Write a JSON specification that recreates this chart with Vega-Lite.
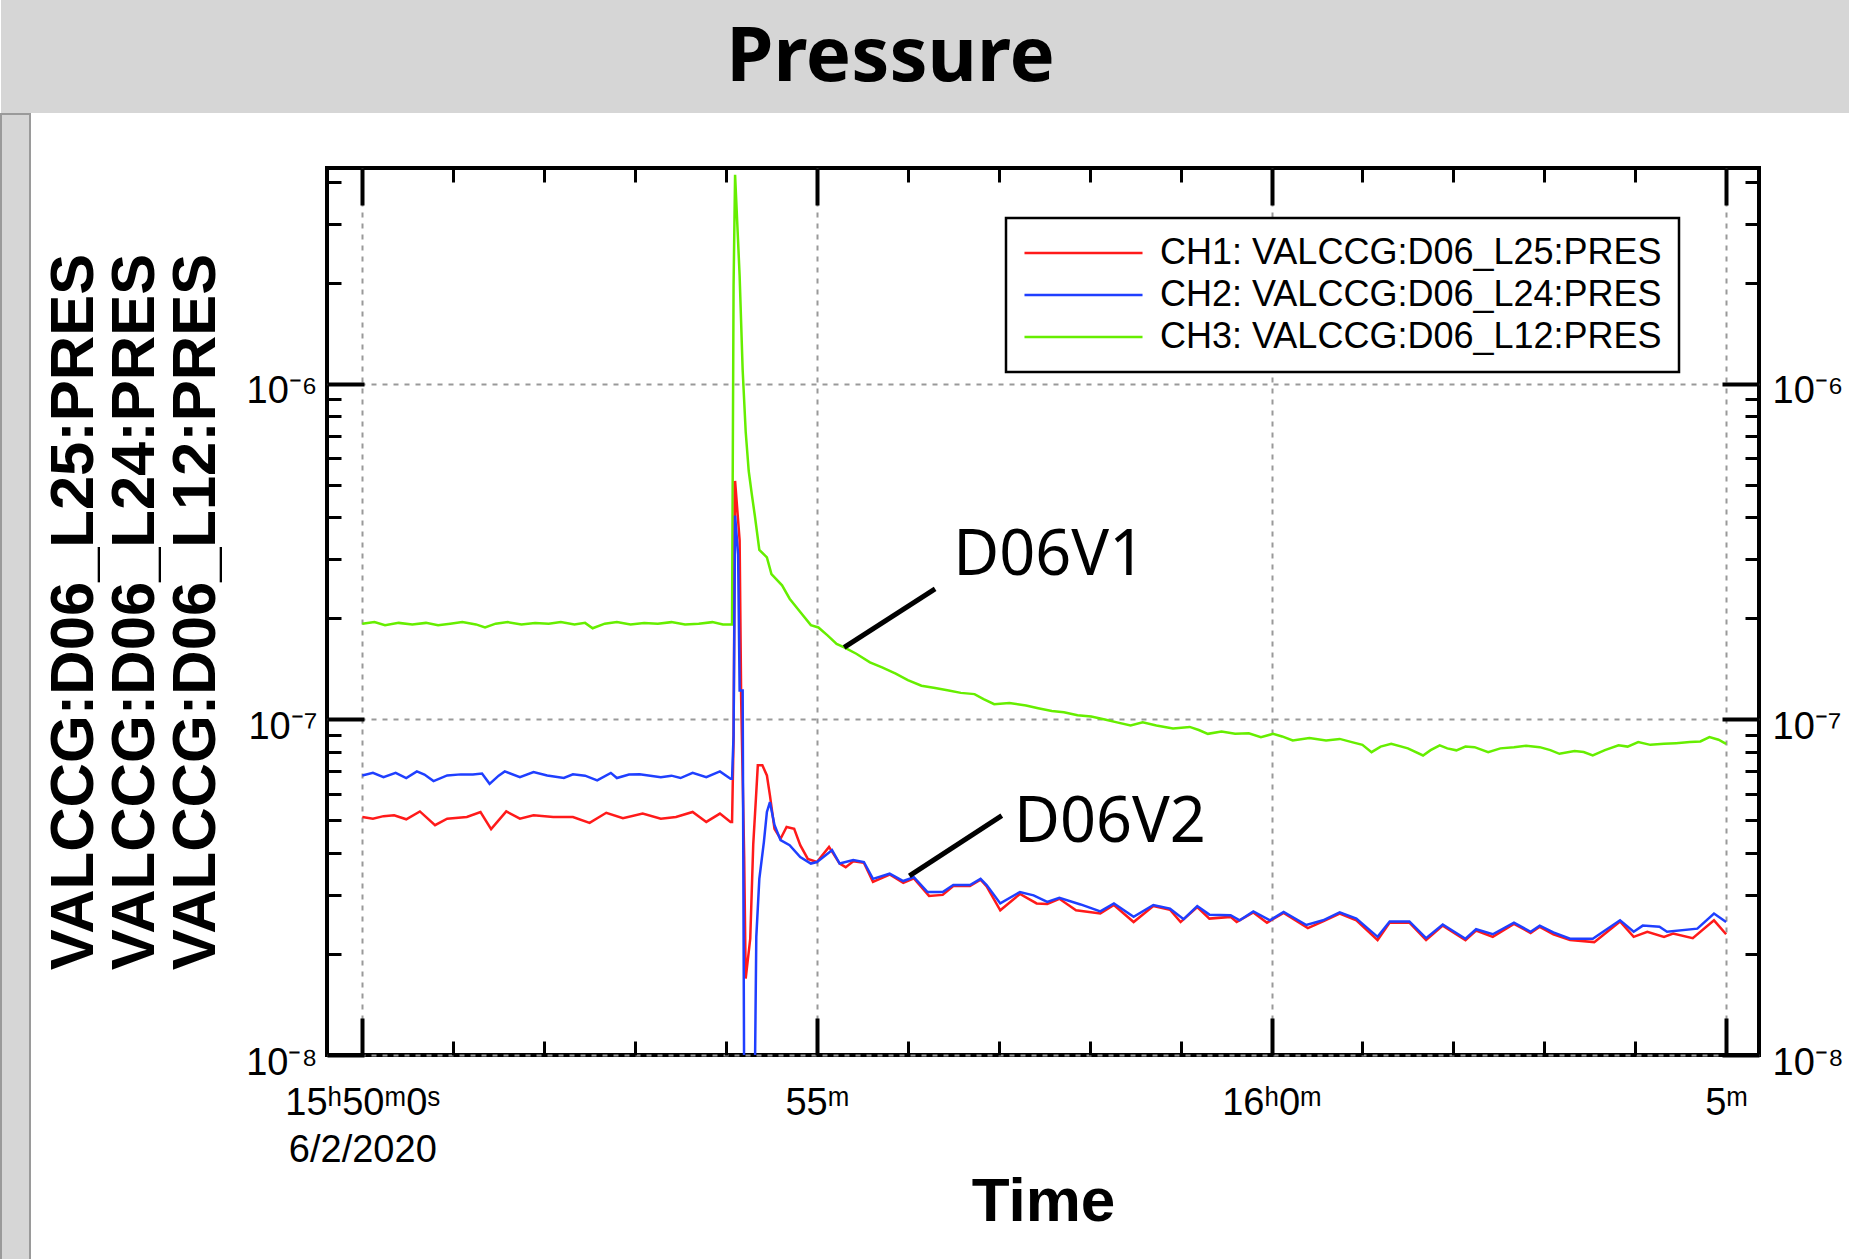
{
  "$schema": "https://vega.github.io/schema/vega-lite/v6.json",
  "padding": 0,
  "background": "white",
  "spacing": 0,
  "config": {
    "view": {"stroke": null},
    "font": "Liberation Sans",
    "axis": {"labelColor": "black", "titleColor": "black", "tickColor": "black", "domain": false, "labelFont": "Liberation Sans", "labelFontSize": 38, "labelOverlap": false, "labelFlush": false, "tickCap": "butt"},
    "legend": {"strokeWidth": 2.5}
  },
  "vconcat": [
    {
      "width": 1849, "height": 113,
      "view": {"fill": "#d6d6d6", "stroke": null},
      "data": {"values": [{"title": "Pressure"}]},
      "mark": {"type": "text", "font": "Noto Sans", "fontWeight": "bold", "fontSize": 76, "color": "black", "align": "center", "baseline": "middle", "dx": -35, "dy": 1},
      "encoding": {"text": {"field": "title", "type": "nominal"}}
    },
    {
      "spacing": 9,
      "hconcat": [
        {
          "width": 29, "height": 1146,
          "view": {"fill": "#d6d6d6", "stroke": "#9a9a9a", "strokeWidth": 2},
          "data": {"values": [{"s": ""}]},
          "mark": {"type": "text"},
          "encoding": {"text": {"field": "s", "type": "nominal"}}
        },
        {
          "spacing": 0,
          "vconcat": [
            {
              "width": 1432, "height": 50,
              "view": {"stroke": null},
              "data": {"values": [{"s": ""}]},
              "mark": {"type": "text"},
              "encoding": {"text": {"field": "s", "type": "nominal"}}
            },
            {
              "width": 1432, "height": 887,
              "view": {"stroke": "black", "strokeWidth": 4},
              "resolve": {"axis": {"x": "independent", "y": "independent"}},
              "layer": [
                {
                  "data": {
                    "format": {"parse": {"t": "date:'%H:%M:%S'"}},
                    "values": [
                      {"ch":"CH3","t":"15:50:00","p":1.93e-7},{"ch":"CH3","t":"15:50:08","p":1.95e-7},{"ch":"CH3","t":"15:50:15","p":1.91e-7},{"ch":"CH3","t":"15:50:24","p":1.94e-7},{"ch":"CH3","t":"15:50:33","p":1.92e-7},{"ch":"CH3","t":"15:50:42","p":1.94e-7},{"ch":"CH3","t":"15:50:50","p":1.91e-7},{"ch":"CH3","t":"15:50:58","p":1.93e-7},{"ch":"CH3","t":"15:51:06","p":1.95e-7},{"ch":"CH3","t":"15:51:15","p":1.92e-7},{"ch":"CH3","t":"15:51:21","p":1.88e-7},{"ch":"CH3","t":"15:51:28","p":1.93e-7},{"ch":"CH3","t":"15:51:36","p":1.95e-7},{"ch":"CH3","t":"15:51:45","p":1.92e-7},{"ch":"CH3","t":"15:51:54","p":1.94e-7},{"ch":"CH3","t":"15:52:03","p":1.93e-7},{"ch":"CH3","t":"15:52:11","p":1.95e-7},{"ch":"CH3","t":"15:52:20","p":1.92e-7},{"ch":"CH3","t":"15:52:27","p":1.94e-7},{"ch":"CH3","t":"15:52:32","p":1.87e-7},{"ch":"CH3","t":"15:52:40","p":1.93e-7},{"ch":"CH3","t":"15:52:48","p":1.95e-7},{"ch":"CH3","t":"15:52:57","p":1.92e-7},{"ch":"CH3","t":"15:53:06","p":1.94e-7},{"ch":"CH3","t":"15:53:15","p":1.93e-7},{"ch":"CH3","t":"15:53:24","p":1.95e-7},{"ch":"CH3","t":"15:53:33","p":1.92e-7},{"ch":"CH3","t":"15:53:42","p":1.93e-7},{"ch":"CH3","t":"15:53:51","p":1.95e-7},{"ch":"CH3","t":"15:53:58","p":1.92e-7},{"ch":"CH3","t":"15:54:04","p":1.92e-7},{"ch":"CH3","t":"15:54:05","p":1.96e-6},{"ch":"CH3","t":"15:54:06","p":4.2e-6},{"ch":"CH3","t":"15:54:09","p":2.1e-6},{"ch":"CH3","t":"15:54:11","p":1.1e-6},{"ch":"CH3","t":"15:54:13","p":7.2e-7},{"ch":"CH3","t":"15:54:15","p":5.5e-7},{"ch":"CH3","t":"15:54:17","p":4.7e-7},{"ch":"CH3","t":"15:54:19","p":4.06e-7},{"ch":"CH3","t":"15:54:22","p":3.2e-7},{"ch":"CH3","t":"15:54:27","p":3.04e-7},{"ch":"CH3","t":"15:54:30","p":2.71e-7},{"ch":"CH3","t":"15:54:37","p":2.51e-7},{"ch":"CH3","t":"15:54:42","p":2.29e-7},{"ch":"CH3","t":"15:54:49","p":2.09e-7},{"ch":"CH3","t":"15:54:56","p":1.91e-7},{"ch":"CH3","t":"15:55:01","p":1.88e-7},{"ch":"CH3","t":"15:55:07","p":1.78e-7},{"ch":"CH3","t":"15:55:13","p":1.68e-7},{"ch":"CH3","t":"15:55:18","p":1.64e-7},{"ch":"CH3","t":"15:55:26","p":1.57e-7},{"ch":"CH3","t":"15:55:35","p":1.48e-7},{"ch":"CH3","t":"15:55:43","p":1.43e-7},{"ch":"CH3","t":"15:55:52","p":1.37e-7},{"ch":"CH3","t":"15:56:00","p":1.31e-7},{"ch":"CH3","t":"15:56:09","p":1.26e-7},{"ch":"CH3","t":"15:56:18","p":1.24e-7},{"ch":"CH3","t":"15:56:27","p":1.22e-7},{"ch":"CH3","t":"15:56:35","p":1.2e-7},{"ch":"CH3","t":"15:56:44","p":1.19e-7},{"ch":"CH3","t":"15:56:50","p":1.15e-7},{"ch":"CH3","t":"15:56:57","p":1.11e-7},{"ch":"CH3","t":"15:57:07","p":1.12e-7},{"ch":"CH3","t":"15:57:18","p":1.1e-7},{"ch":"CH3","t":"15:57:26","p":1.08e-7},{"ch":"CH3","t":"15:57:35","p":1.06e-7},{"ch":"CH3","t":"15:57:43","p":1.05e-7},{"ch":"CH3","t":"15:57:52","p":1.03e-7},{"ch":"CH3","t":"15:58:01","p":1.02e-7},{"ch":"CH3","t":"15:58:10","p":1.0e-7},{"ch":"CH3","t":"15:58:18","p":9.8e-8},{"ch":"CH3","t":"15:58:27","p":9.6e-8},{"ch":"CH3","t":"15:58:35","p":9.8e-8},{"ch":"CH3","t":"15:58:44","p":9.6e-8},{"ch":"CH3","t":"15:58:55","p":9.4e-8},{"ch":"CH3","t":"15:59:06","p":9.5e-8},{"ch":"CH3","t":"15:59:12","p":9.3e-8},{"ch":"CH3","t":"15:59:18","p":9.06e-8},{"ch":"CH3","t":"15:59:27","p":9.2e-8},{"ch":"CH3","t":"15:59:36","p":9.06e-8},{"ch":"CH3","t":"15:59:45","p":9.1e-8},{"ch":"CH3","t":"15:59:53","p":8.86e-8},{"ch":"CH3","t":"16:00:01","p":9.06e-8},{"ch":"CH3","t":"16:00:07","p":8.9e-8},{"ch":"CH3","t":"16:00:14","p":8.66e-8},{"ch":"CH3","t":"16:00:25","p":8.8e-8},{"ch":"CH3","t":"16:00:36","p":8.66e-8},{"ch":"CH3","t":"16:00:45","p":8.75e-8},{"ch":"CH3","t":"16:00:53","p":8.56e-8},{"ch":"CH3","t":"16:01:00","p":8.4e-8},{"ch":"CH3","t":"16:01:06","p":7.99e-8},{"ch":"CH3","t":"16:01:12","p":8.3e-8},{"ch":"CH3","t":"16:01:19","p":8.46e-8},{"ch":"CH3","t":"16:01:30","p":8.2e-8},{"ch":"CH3","t":"16:01:40","p":7.81e-8},{"ch":"CH3","t":"16:01:45","p":8.1e-8},{"ch":"CH3","t":"16:01:51","p":8.37e-8},{"ch":"CH3","t":"16:01:56","p":8.2e-8},{"ch":"CH3","t":"16:02:02","p":8.09e-8},{"ch":"CH3","t":"16:02:08","p":8.3e-8},{"ch":"CH3","t":"16:02:14","p":8.27e-8},{"ch":"CH3","t":"16:02:23","p":7.99e-8},{"ch":"CH3","t":"16:02:31","p":8.2e-8},{"ch":"CH3","t":"16:02:40","p":8.27e-8},{"ch":"CH3","t":"16:02:48","p":8.35e-8},{"ch":"CH3","t":"16:02:57","p":8.27e-8},{"ch":"CH3","t":"16:03:04","p":8.1e-8},{"ch":"CH3","t":"16:03:10","p":7.9e-8},{"ch":"CH3","t":"16:03:20","p":8.05e-8},{"ch":"CH3","t":"16:03:26","p":8.0e-8},{"ch":"CH3","t":"16:03:32","p":7.81e-8},{"ch":"CH3","t":"16:03:40","p":8.1e-8},{"ch":"CH3","t":"16:03:49","p":8.37e-8},{"ch":"CH3","t":"16:03:55","p":8.3e-8},{"ch":"CH3","t":"16:04:02","p":8.56e-8},{"ch":"CH3","t":"16:04:10","p":8.4e-8},{"ch":"CH3","t":"16:04:19","p":8.46e-8},{"ch":"CH3","t":"16:04:27","p":8.5e-8},{"ch":"CH3","t":"16:04:36","p":8.56e-8},{"ch":"CH3","t":"16:04:43","p":8.6e-8},{"ch":"CH3","t":"16:04:49","p":8.86e-8},{"ch":"CH3","t":"16:04:55","p":8.7e-8},{"ch":"CH3","t":"16:05:00","p":8.46e-8},
                      {"ch":"CH1","t":"15:50:00","p":5.12e-8},{"ch":"CH1","t":"15:50:07","p":5.06e-8},{"ch":"CH1","t":"15:50:14","p":5.15e-8},{"ch":"CH1","t":"15:50:21","p":5.18e-8},{"ch":"CH1","t":"15:50:29","p":5.04e-8},{"ch":"CH1","t":"15:50:38","p":5.32e-8},{"ch":"CH1","t":"15:50:48","p":4.84e-8},{"ch":"CH1","t":"15:50:56","p":5.06e-8},{"ch":"CH1","t":"15:51:09","p":5.12e-8},{"ch":"CH1","t":"15:51:18","p":5.3e-8},{"ch":"CH1","t":"15:51:25","p":4.71e-8},{"ch":"CH1","t":"15:51:35","p":5.32e-8},{"ch":"CH1","t":"15:51:44","p":5.06e-8},{"ch":"CH1","t":"15:51:53","p":5.18e-8},{"ch":"CH1","t":"15:52:06","p":5.12e-8},{"ch":"CH1","t":"15:52:19","p":5.12e-8},{"ch":"CH1","t":"15:52:30","p":4.92e-8},{"ch":"CH1","t":"15:52:41","p":5.27e-8},{"ch":"CH1","t":"15:52:52","p":5.08e-8},{"ch":"CH1","t":"15:53:05","p":5.24e-8},{"ch":"CH1","t":"15:53:17","p":5.06e-8},{"ch":"CH1","t":"15:53:27","p":5.12e-8},{"ch":"CH1","t":"15:53:38","p":5.3e-8},{"ch":"CH1","t":"15:53:47","p":4.95e-8},{"ch":"CH1","t":"15:53:56","p":5.24e-8},{"ch":"CH1","t":"15:54:03","p":4.95e-8},{"ch":"CH1","t":"15:54:04","p":4.95e-8},{"ch":"CH1","t":"15:54:05","p":8.75e-8},{"ch":"CH1","t":"15:54:06","p":5.14e-7},{"ch":"CH1","t":"15:54:09","p":3.42e-7},{"ch":"CH1","t":"15:54:10","p":1.16e-7},{"ch":"CH1","t":"15:54:12","p":3.9e-8},{"ch":"CH1","t":"15:54:13","p":1.69e-8},{"ch":"CH1","t":"15:54:16","p":2.22e-8},{"ch":"CH1","t":"15:54:18","p":4.26e-8},{"ch":"CH1","t":"15:54:20","p":6.08e-8},{"ch":"CH1","t":"15:54:21","p":7.3e-8},{"ch":"CH1","t":"15:54:24","p":7.3e-8},{"ch":"CH1","t":"15:54:27","p":6.81e-8},{"ch":"CH1","t":"15:54:29","p":5.94e-8},{"ch":"CH1","t":"15:54:32","p":4.72e-8},{"ch":"CH1","t":"15:54:36","p":4.41e-8},{"ch":"CH1","t":"15:54:40","p":4.78e-8},{"ch":"CH1","t":"15:54:45","p":4.72e-8},{"ch":"CH1","t":"15:54:49","p":4.22e-8},{"ch":"CH1","t":"15:54:54","p":3.84e-8},{"ch":"CH1","t":"15:55:00","p":3.76e-8},{"ch":"CH1","t":"15:55:08","p":4.17e-8},{"ch":"CH1","t":"15:55:15","p":3.72e-8},{"ch":"CH1","t":"15:55:19","p":3.63e-8},{"ch":"CH1","t":"15:55:24","p":3.78e-8},{"ch":"CH1","t":"15:55:31","p":3.74e-8},{"ch":"CH1","t":"15:55:37","p":3.28e-8},{"ch":"CH1","t":"15:55:48","p":3.45e-8},{"ch":"CH1","t":"15:55:57","p":3.26e-8},{"ch":"CH1","t":"15:56:04","p":3.36e-8},{"ch":"CH1","t":"15:56:14","p":2.98e-8},{"ch":"CH1","t":"15:56:23","p":3.0e-8},{"ch":"CH1","t":"15:56:30","p":3.19e-8},{"ch":"CH1","t":"15:56:41","p":3.19e-8},{"ch":"CH1","t":"15:56:48","p":3.33e-8},{"ch":"CH1","t":"15:56:52","p":3.18e-8},{"ch":"CH1","t":"15:57:01","p":2.7e-8},{"ch":"CH1","t":"15:57:14","p":3.02e-8},{"ch":"CH1","t":"15:57:25","p":2.83e-8},{"ch":"CH1","t":"15:57:32","p":2.82e-8},{"ch":"CH1","t":"15:57:40","p":2.92e-8},{"ch":"CH1","t":"15:57:51","p":2.7e-8},{"ch":"CH1","t":"15:58:07","p":2.64e-8},{"ch":"CH1","t":"15:58:16","p":2.8e-8},{"ch":"CH1","t":"15:58:29","p":2.49e-8},{"ch":"CH1","t":"15:58:42","p":2.78e-8},{"ch":"CH1","t":"15:58:53","p":2.71e-8},{"ch":"CH1","t":"15:59:00","p":2.49e-8},{"ch":"CH1","t":"15:59:11","p":2.76e-8},{"ch":"CH1","t":"15:59:19","p":2.55e-8},{"ch":"CH1","t":"15:59:33","p":2.58e-8},{"ch":"CH1","t":"15:59:37","p":2.49e-8},{"ch":"CH1","t":"15:59:48","p":2.66e-8},{"ch":"CH1","t":"15:59:57","p":2.48e-8},{"ch":"CH1","t":"16:00:08","p":2.65e-8},{"ch":"CH1","t":"16:00:24","p":2.39e-8},{"ch":"CH1","t":"16:00:34","p":2.5e-8},{"ch":"CH1","t":"16:00:45","p":2.64e-8},{"ch":"CH1","t":"16:00:56","p":2.52e-8},{"ch":"CH1","t":"16:01:10","p":2.2e-8},{"ch":"CH1","t":"16:01:18","p":2.48e-8},{"ch":"CH1","t":"16:01:31","p":2.48e-8},{"ch":"CH1","t":"16:01:42","p":2.2e-8},{"ch":"CH1","t":"16:01:53","p":2.43e-8},{"ch":"CH1","t":"16:02:08","p":2.2e-8},{"ch":"CH1","t":"16:02:15","p":2.35e-8},{"ch":"CH1","t":"16:02:26","p":2.25e-8},{"ch":"CH1","t":"16:02:40","p":2.46e-8},{"ch":"CH1","t":"16:02:51","p":2.31e-8},{"ch":"CH1","t":"16:02:57","p":2.41e-8},{"ch":"CH1","t":"16:03:06","p":2.29e-8},{"ch":"CH1","t":"16:03:17","p":2.2e-8},{"ch":"CH1","t":"16:03:33","p":2.17e-8},{"ch":"CH1","t":"16:03:50","p":2.5e-8},{"ch":"CH1","t":"16:03:59","p":2.25e-8},{"ch":"CH1","t":"16:04:08","p":2.33e-8},{"ch":"CH1","t":"16:04:19","p":2.25e-8},{"ch":"CH1","t":"16:04:25","p":2.3e-8},{"ch":"CH1","t":"16:04:38","p":2.23e-8},{"ch":"CH1","t":"16:04:52","p":2.52e-8},{"ch":"CH1","t":"16:05:00","p":2.29e-8},
                      {"ch":"CH2","t":"15:50:00","p":6.81e-8},{"ch":"CH2","t":"15:50:07","p":6.93e-8},{"ch":"CH2","t":"15:50:14","p":6.73e-8},{"ch":"CH2","t":"15:50:22","p":6.93e-8},{"ch":"CH2","t":"15:50:29","p":6.69e-8},{"ch":"CH2","t":"15:50:36","p":7.0e-8},{"ch":"CH2","t":"15:50:41","p":6.85e-8},{"ch":"CH2","t":"15:50:47","p":6.55e-8},{"ch":"CH2","t":"15:50:56","p":6.81e-8},{"ch":"CH2","t":"15:51:05","p":6.86e-8},{"ch":"CH2","t":"15:51:13","p":6.86e-8},{"ch":"CH2","t":"15:51:19","p":6.9e-8},{"ch":"CH2","t":"15:51:24","p":6.43e-8},{"ch":"CH2","t":"15:51:30","p":6.8e-8},{"ch":"CH2","t":"15:51:34","p":7.0e-8},{"ch":"CH2","t":"15:51:44","p":6.73e-8},{"ch":"CH2","t":"15:51:53","p":6.97e-8},{"ch":"CH2","t":"15:52:02","p":6.81e-8},{"ch":"CH2","t":"15:52:13","p":6.69e-8},{"ch":"CH2","t":"15:52:19","p":6.86e-8},{"ch":"CH2","t":"15:52:27","p":6.8e-8},{"ch":"CH2","t":"15:52:35","p":6.58e-8},{"ch":"CH2","t":"15:52:44","p":6.93e-8},{"ch":"CH2","t":"15:52:48","p":6.69e-8},{"ch":"CH2","t":"15:52:56","p":6.85e-8},{"ch":"CH2","t":"15:53:03","p":6.86e-8},{"ch":"CH2","t":"15:53:10","p":6.8e-8},{"ch":"CH2","t":"15:53:17","p":6.73e-8},{"ch":"CH2","t":"15:53:24","p":6.8e-8},{"ch":"CH2","t":"15:53:30","p":6.69e-8},{"ch":"CH2","t":"15:53:38","p":6.93e-8},{"ch":"CH2","t":"15:53:47","p":6.73e-8},{"ch":"CH2","t":"15:53:56","p":7.0e-8},{"ch":"CH2","t":"15:54:03","p":6.66e-8},{"ch":"CH2","t":"15:54:04","p":6.66e-8},{"ch":"CH2","t":"15:54:05","p":8.96e-8},{"ch":"CH2","t":"15:54:06","p":4.05e-7},{"ch":"CH2","t":"15:54:08","p":3.1e-7},{"ch":"CH2","t":"15:54:09","p":1.22e-7},{"ch":"CH2","t":"15:54:11","p":1.22e-7},{"ch":"CH2","t":"15:54:12","p":8e-9},{"ch":"CH2","t":"15:54:19","p":8e-9},{"ch":"CH2","t":"15:54:20","p":2.25e-8},{"ch":"CH2","t":"15:54:22","p":3.35e-8},{"ch":"CH2","t":"15:54:25","p":4.31e-8},{"ch":"CH2","t":"15:54:27","p":5.3e-8},{"ch":"CH2","t":"15:54:29","p":5.67e-8},{"ch":"CH2","t":"15:54:32","p":4.85e-8},{"ch":"CH2","t":"15:54:36","p":4.37e-8},{"ch":"CH2","t":"15:54:42","p":4.22e-8},{"ch":"CH2","t":"15:54:49","p":3.89e-8},{"ch":"CH2","t":"15:54:56","p":3.72e-8},{"ch":"CH2","t":"15:55:00","p":3.76e-8},{"ch":"CH2","t":"15:55:07","p":3.98e-8},{"ch":"CH2","t":"15:55:10","p":4.08e-8},{"ch":"CH2","t":"15:55:15","p":3.72e-8},{"ch":"CH2","t":"15:55:24","p":3.81e-8},{"ch":"CH2","t":"15:55:31","p":3.76e-8},{"ch":"CH2","t":"15:55:37","p":3.35e-8},{"ch":"CH2","t":"15:55:48","p":3.47e-8},{"ch":"CH2","t":"15:55:57","p":3.3e-8},{"ch":"CH2","t":"15:56:04","p":3.39e-8},{"ch":"CH2","t":"15:56:13","p":3.06e-8},{"ch":"CH2","t":"15:56:23","p":3.06e-8},{"ch":"CH2","t":"15:56:30","p":3.21e-8},{"ch":"CH2","t":"15:56:41","p":3.21e-8},{"ch":"CH2","t":"15:56:48","p":3.35e-8},{"ch":"CH2","t":"15:56:52","p":3.21e-8},{"ch":"CH2","t":"15:57:01","p":2.83e-8},{"ch":"CH2","t":"15:57:14","p":3.06e-8},{"ch":"CH2","t":"15:57:23","p":2.99e-8},{"ch":"CH2","t":"15:57:32","p":2.86e-8},{"ch":"CH2","t":"15:57:40","p":2.94e-8},{"ch":"CH2","t":"15:57:54","p":2.81e-8},{"ch":"CH2","t":"15:58:07","p":2.68e-8},{"ch":"CH2","t":"15:58:16","p":2.83e-8},{"ch":"CH2","t":"15:58:29","p":2.58e-8},{"ch":"CH2","t":"15:58:42","p":2.8e-8},{"ch":"CH2","t":"15:58:53","p":2.73e-8},{"ch":"CH2","t":"15:59:02","p":2.54e-8},{"ch":"CH2","t":"15:59:11","p":2.78e-8},{"ch":"CH2","t":"15:59:19","p":2.62e-8},{"ch":"CH2","t":"15:59:33","p":2.61e-8},{"ch":"CH2","t":"15:59:39","p":2.52e-8},{"ch":"CH2","t":"15:59:48","p":2.68e-8},{"ch":"CH2","t":"15:59:59","p":2.52e-8},{"ch":"CH2","t":"16:00:08","p":2.67e-8},{"ch":"CH2","t":"16:00:23","p":2.44e-8},{"ch":"CH2","t":"16:00:34","p":2.52e-8},{"ch":"CH2","t":"16:00:45","p":2.66e-8},{"ch":"CH2","t":"16:00:56","p":2.55e-8},{"ch":"CH2","t":"16:01:10","p":2.25e-8},{"ch":"CH2","t":"16:01:18","p":2.5e-8},{"ch":"CH2","t":"16:01:31","p":2.5e-8},{"ch":"CH2","t":"16:01:42","p":2.23e-8},{"ch":"CH2","t":"16:01:53","p":2.45e-8},{"ch":"CH2","t":"16:02:08","p":2.22e-8},{"ch":"CH2","t":"16:02:15","p":2.37e-8},{"ch":"CH2","t":"16:02:26","p":2.29e-8},{"ch":"CH2","t":"16:02:40","p":2.48e-8},{"ch":"CH2","t":"16:02:51","p":2.33e-8},{"ch":"CH2","t":"16:02:57","p":2.43e-8},{"ch":"CH2","t":"16:03:06","p":2.32e-8},{"ch":"CH2","t":"16:03:17","p":2.22e-8},{"ch":"CH2","t":"16:03:32","p":2.22e-8},{"ch":"CH2","t":"16:03:50","p":2.52e-8},{"ch":"CH2","t":"16:03:59","p":2.33e-8},{"ch":"CH2","t":"16:04:05","p":2.43e-8},{"ch":"CH2","t":"16:04:16","p":2.41e-8},{"ch":"CH2","t":"16:04:21","p":2.33e-8},{"ch":"CH2","t":"16:04:41","p":2.38e-8},{"ch":"CH2","t":"16:04:52","p":2.64e-8},{"ch":"CH2","t":"16:05:00","p":2.49e-8}
                    ]
                  },
                  "mark": {"type": "line", "strokeWidth": 2.5, "clip": true},
                  "encoding": {
                    "x": {
                      "field": "t", "type": "temporal",
                      "scale": {"domain": [{"year":1900,"month":1,"date":1,"hours":15,"minutes":49,"seconds":36,"milliseconds":700},{"year":1900,"month":1,"date":1,"hours":16,"minutes":5,"seconds":21,"milliseconds":700}]},
                      "axis": {
                        "orient": "bottom",
                        "values": [{"year":1900,"month":1,"date":1,"hours":15,"minutes":50},{"year":1900,"month":1,"date":1,"hours":15,"minutes":51},{"year":1900,"month":1,"date":1,"hours":15,"minutes":52},{"year":1900,"month":1,"date":1,"hours":15,"minutes":53},{"year":1900,"month":1,"date":1,"hours":15,"minutes":54},{"year":1900,"month":1,"date":1,"hours":15,"minutes":55},{"year":1900,"month":1,"date":1,"hours":15,"minutes":56},{"year":1900,"month":1,"date":1,"hours":15,"minutes":57},{"year":1900,"month":1,"date":1,"hours":15,"minutes":58},{"year":1900,"month":1,"date":1,"hours":15,"minutes":59},{"year":1900,"month":1,"date":1,"hours":16,"minutes":0},{"year":1900,"month":1,"date":1,"hours":16,"minutes":1},{"year":1900,"month":1,"date":1,"hours":16,"minutes":2},{"year":1900,"month":1,"date":1,"hours":16,"minutes":3},{"year":1900,"month":1,"date":1,"hours":16,"minutes":4},{"year":1900,"month":1,"date":1,"hours":16,"minutes":5}],
                        "tickSize": {"condition": {"test": "minutes(datum.value) % 5 == 0", "value": -37}, "value": -14},
                        "tickWidth": {"condition": {"test": "minutes(datum.value) % 5 == 0", "value": 4}, "value": 3},
                        "grid": true,
                        "gridColor": "#999999",
                        "gridDash": [5, 6],
                        "gridWidth": 2,
                        "gridOpacity": {"condition": {"test": "minutes(datum.value) % 5 == 0", "value": 1}, "value": 0},
                        "labelExpr": "minutes(datum.value) == 50 ? ['15ʰ50ᵐ0ˢ', '6/2/2020'] : minutes(datum.value) == 55 ? '55ᵐ' : minutes(datum.value) == 0 ? '16ʰ0ᵐ' : minutes(datum.value) == 5 ? '5ᵐ' : ''",
                        "labelPadding": 66,
                        "labelBaseline": "top",
                        "labelLineHeight": 47,
                        "labelAlign": "center",
                        "title": "Time",
                        "titleFont": "Liberation Sans",
                        "titleFontWeight": "bold",
                        "titleFontSize": 62,
                        "titleBaseline": "top",
                        "titleY": 116
                      }
                    },
                    "y": {
                      "field": "p", "type": "quantitative",
                      "scale": {"type": "log", "domain": [1e-8, 4.4e-6], "nice": false},
                      "axis": {
                        "orient": "left",
                        "values": [1e-8,2e-8,3e-8,4e-8,5e-8,6e-8,7e-8,8e-8,9e-8,1e-7,2e-7,3e-7,4e-7,5e-7,6e-7,7e-7,8e-7,9e-7,1e-6,2e-6,3e-6,4e-6],
                        "tickSize": {"condition": {"test": "abs(log(datum.value)/LN10 - round(log(datum.value)/LN10)) < 0.01", "value": -37}, "value": -14},
                        "tickWidth": {"condition": {"test": "abs(log(datum.value)/LN10 - round(log(datum.value)/LN10)) < 0.01", "value": 4}, "value": 3},
                        "grid": true,
                        "gridColor": "#999999",
                        "gridDash": [5, 6],
                        "gridWidth": 2,
                        "gridOpacity": {"condition": {"test": "abs(log(datum.value)/LN10 - round(log(datum.value)/LN10)) < 0.01", "value": 1}, "value": 0},
                        "labelExpr": "abs(log(datum.value)/LN10 - round(log(datum.value)/LN10)) < 0.01 ? (round(log(datum.value)/LN10) == -6 ? '10⁻⁶' : round(log(datum.value)/LN10) == -7 ? '10⁻⁷' : '10⁻⁸') : ''",
                        "labelPadding": 47,
                        "labelOffset": 8,
                        "labelBaseline": "middle",
                        "title": ["VALCCG:D06_L25:PRES", "VALCCG:D06_L24:PRES", "VALCCG:D06_L12:PRES"],
                        "titleFont": "Liberation Sans",
                        "titleFontWeight": "bold",
                        "titleFontSize": 61.5,
                        "titleLineHeight": 61,
                        "titleBaseline": "alphabetic",
                        "titleX": -235
                      }
                    },
                    "color": {
                      "field": "ch", "type": "nominal",
                      "scale": {"domain": ["CH1", "CH2", "CH3"], "range": ["#ff1a1a", "#1f3fff", "#66ee00"]},
                      "legend": {
                        "title": null,
                        "orient": "none",
                        "legendX": 1005,
                        "legendY": 218,
                        "direction": "vertical",
                        "symbolType": "M-6,0H6",
                        "symbolSize": 387,
                        "symbolStrokeWidth": 2.5,
                        "symbolOffset": 42.5,
                        "labelOffset": 58.5,
                        "labelFont": "Liberation Sans",
                        "labelFontSize": 36,
                        "labelColor": "black",
                        "labelLimit": 1000,
                        "rowPadding": 6,
                        "padding": 17,
                        "strokeColor": "black",
                        "fillColor": "white",
                        "labelExpr": "datum.label == 'CH1' ? 'CH1: VALCCG:D06_L25:PRES' : datum.label == 'CH2' ? 'CH2: VALCCG:D06_L24:PRES' : 'CH3: VALCCG:D06_L12:PRES'"
                      }
                    }
                  }
                },
                {
                  "data": {
                    "format": {"parse": {"t1": "date:'%H:%M:%S'", "t2": "date:'%H:%M:%S'"}},
                    "values": [
                      {"t1": "15:56:18", "p1": 2.45e-7, "t2": "15:55:18", "p2": 1.64e-7},
                      {"t1": "15:57:02", "p1": 5.17e-8, "t2": "15:56:01", "p2": 3.42e-8}
                    ]
                  },
                  "mark": {"type": "rule", "strokeWidth": 5, "color": "black", "strokeCap": "butt"},
                  "encoding": {
                    "x": {
                      "field": "t1", "type": "temporal",
                      "scale": {"domain": [{"year":1900,"month":1,"date":1,"hours":15,"minutes":49,"seconds":36,"milliseconds":700},{"year":1900,"month":1,"date":1,"hours":16,"minutes":5,"seconds":21,"milliseconds":700}]},
                      "axis": {
                        "orient": "top",
                        "values": [{"year":1900,"month":1,"date":1,"hours":15,"minutes":50},{"year":1900,"month":1,"date":1,"hours":15,"minutes":51},{"year":1900,"month":1,"date":1,"hours":15,"minutes":52},{"year":1900,"month":1,"date":1,"hours":15,"minutes":53},{"year":1900,"month":1,"date":1,"hours":15,"minutes":54},{"year":1900,"month":1,"date":1,"hours":15,"minutes":55},{"year":1900,"month":1,"date":1,"hours":15,"minutes":56},{"year":1900,"month":1,"date":1,"hours":15,"minutes":57},{"year":1900,"month":1,"date":1,"hours":15,"minutes":58},{"year":1900,"month":1,"date":1,"hours":15,"minutes":59},{"year":1900,"month":1,"date":1,"hours":16,"minutes":0},{"year":1900,"month":1,"date":1,"hours":16,"minutes":1},{"year":1900,"month":1,"date":1,"hours":16,"minutes":2},{"year":1900,"month":1,"date":1,"hours":16,"minutes":3},{"year":1900,"month":1,"date":1,"hours":16,"minutes":4},{"year":1900,"month":1,"date":1,"hours":16,"minutes":5}],
                        "tickSize": {"condition": {"test": "minutes(datum.value) % 5 == 0", "value": -37}, "value": -14},
                        "tickWidth": {"condition": {"test": "minutes(datum.value) % 5 == 0", "value": 4}, "value": 3},
                        "labels": false,
                        "grid": false,
                        "title": null
                      }
                    },
                    "x2": {"field": "t2"},
                    "y": {
                      "field": "p1", "type": "quantitative",
                      "scale": {"type": "log", "domain": [1e-8, 4.4e-6], "nice": false},
                      "axis": {
                        "orient": "right",
                        "values": [1e-8,2e-8,3e-8,4e-8,5e-8,6e-8,7e-8,8e-8,9e-8,1e-7,2e-7,3e-7,4e-7,5e-7,6e-7,7e-7,8e-7,9e-7,1e-6,2e-6,3e-6,4e-6],
                        "tickSize": {"condition": {"test": "abs(log(datum.value)/LN10 - round(log(datum.value)/LN10)) < 0.01", "value": -37}, "value": -14},
                        "tickWidth": {"condition": {"test": "abs(log(datum.value)/LN10 - round(log(datum.value)/LN10)) < 0.01", "value": 4}, "value": 3},
                        "grid": false,
                        "labelExpr": "abs(log(datum.value)/LN10 - round(log(datum.value)/LN10)) < 0.01 ? (round(log(datum.value)/LN10) == -6 ? '10⁻⁶' : round(log(datum.value)/LN10) == -7 ? '10⁻⁷' : '10⁻⁸') : ''",
                        "labelPadding": 50,
                        "labelOffset": 8,
                        "labelBaseline": "middle",
                        "title": null
                      }
                    },
                    "y2": {"field": "p2"}
                  }
                },
                {
                  "data": {
                    "format": {"parse": {"t": "date:'%H:%M:%S'"}},
                    "values": [
                      {"t": "15:56:30", "p": 3.07e-7, "label": "D06V1"},
                      {"t": "15:57:10", "p": 4.91e-8, "label": "D06V2"}
                    ]
                  },
                  "mark": {"type": "text", "align": "left", "baseline": "middle", "font": "Noto Sans", "fontSize": 63, "color": "black"},
                  "encoding": {
                    "x": {"field": "t", "type": "temporal", "axis": null, "scale": {"domain": [{"year":1900,"month":1,"date":1,"hours":15,"minutes":49,"seconds":36,"milliseconds":700},{"year":1900,"month":1,"date":1,"hours":16,"minutes":5,"seconds":21,"milliseconds":700}]}},
                    "y": {"field": "p", "type": "quantitative", "axis": null, "scale": {"type": "log", "domain": [1e-8, 4.4e-6], "nice": false}},
                    "text": {"field": "label", "type": "nominal"}
                  }
                }
              ]
            }
          ]
        }
      ]
    }
  ]
}
